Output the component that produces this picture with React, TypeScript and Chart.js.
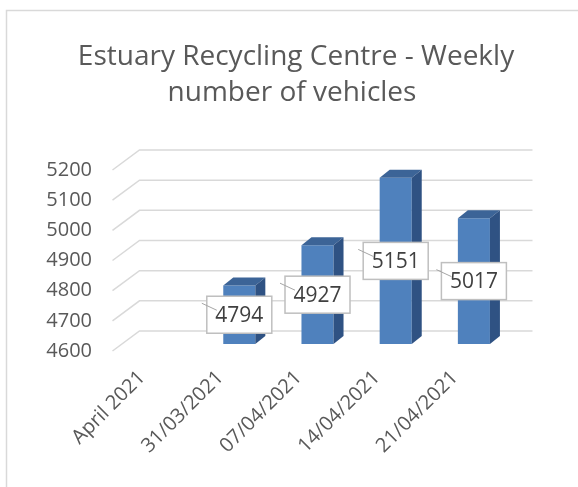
import React, { useEffect, useRef } from "react";
import { Chart, registerables } from "chart.js";

Chart.register(...registerables);

const categories = ["April 2021", "31/03/2021", "07/04/2021", "14/04/2021", "21/04/2021"];
const vehicles: (number | null)[] = [null, 4794, 4927, 5151, 5017];
const titleLines = ["Estuary Recycling Centre - Weekly", "number of vehicles"];
const yMin = 4600;
const yMax = 5200;
const yStep = 100;

const FONT = "'Open Sans', sans-serif";
const TEXT = "#595959";
const GRID = "#d9d9d9";
const FRONT = "#4f81bd";
const TOP = "#3c6497";
const SIDE = "#2f5283";
const DX = 10;
const DY = 8;

const framePlugin = {
  id: "frame",
  beforeDraw(chart: any) {
    const { ctx, width, height } = chart;
    ctx.save();
    ctx.fillStyle = "#ffffff";
    ctx.fillRect(0, 0, width, height);
    ctx.strokeStyle = GRID;
    ctx.lineWidth = 1.5;
    ctx.beginPath();
    ctx.moveTo(6.5, height);
    ctx.lineTo(6.5, 10.5);
    ctx.lineTo(width, 10.5);
    ctx.stroke();
    ctx.fillStyle = TEXT;
    ctx.font = `28px ${FONT}`;
    ctx.textAlign = "center";
    ctx.textBaseline = "middle";
    ctx.fillText(titleLines[0], 296, 57);
    ctx.fillText(titleLines[1], 292, 93);
    ctx.restore();
  },
};

const wallPlugin = {
  id: "wall",
  beforeDatasetsDraw(chart: any) {
    const { ctx, chartArea } = chart;
    const y = chart.scales.y;
    const fx = chartArea.left - 9.5;
    const bx = chartArea.left + 17.5;
    const ex = chartArea.right + 19.5;
    ctx.save();
    ctx.strokeStyle = GRID;
    ctx.lineWidth = 1.5;
    y.ticks.forEach((t: any) => {
      const py = y.getPixelForValue(t.value);
      ctx.beginPath();
      ctx.moveTo(fx, py + 7);
      ctx.lineTo(bx, py - 13);
      ctx.lineTo(ex, py - 13);
      ctx.stroke();
    });
    ctx.restore();
  },
};

const bar3dPlugin = {
  id: "bar3d",
  afterDatasetsDraw(chart: any) {
    const { ctx } = chart;
    const meta = chart.getDatasetMeta(0);
    ctx.save();
    meta.data.forEach((bar: any, i: number) => {
      const v = vehicles[i];
      if (v == null) return;
      const { x, y, base, width } = bar.getProps(["x", "y", "base", "width"], true);
      const l = x - width / 2;
      const r = x + width / 2;
      ctx.fillStyle = TOP;
      ctx.beginPath();
      ctx.moveTo(l, y);
      ctx.lineTo(l + DX, y - DY);
      ctx.lineTo(r + DX, y - DY);
      ctx.lineTo(r, y);
      ctx.closePath();
      ctx.fill();
      ctx.fillStyle = SIDE;
      ctx.beginPath();
      ctx.moveTo(r, y);
      ctx.lineTo(r + DX, y - DY);
      ctx.lineTo(r + DX, base - DY);
      ctx.lineTo(r, base);
      ctx.closePath();
      ctx.fill();
    });
    meta.data.forEach((bar: any, i: number) => {
      const v = vehicles[i];
      if (v == null) return;
      const { x, y, base } = bar.getProps(["x", "y", "base"], true);
      const cy = (y + base) / 2;
      const w = 65;
      const h = 37;
      const left = x - w / 2;
      const top = cy - h / 2;
      ctx.fillStyle = "#ffffff";
      ctx.fillRect(left, top, w, h);
      ctx.strokeStyle = "#bfbfbf";
      ctx.lineWidth = 1.5;
      ctx.strokeRect(left, top, w, h);
      ctx.strokeStyle = "#a6a6a6";
      ctx.lineWidth = 1;
      ctx.beginPath();
      ctx.moveTo(left - 5, top + 7);
      ctx.lineTo(left + 10, top + 14);
      ctx.stroke();
      ctx.fillStyle = "#404040";
      ctx.font = `21px ${FONT}`;
      ctx.textAlign = "center";
      ctx.textBaseline = "middle";
      ctx.fillText(String(v), x, cy + 1);
    });
    ctx.restore();
  },
};

export default function App() {
  const ref = useRef<HTMLCanvasElement | null>(null);
  useEffect(() => {
    if (!ref.current) return;
    const chart = new Chart(ref.current, {
      type: "bar",
      data: {
        labels: categories,
        datasets: [
          {
            data: vehicles as any,
            base: yMin,
            backgroundColor: FRONT,
            barPercentage: 0.41,
            categoryPercentage: 1,
          } as any,
        ],
      },
      options: {
        responsive: false,
        animation: false,
        events: [],
        layout: { padding: { left: 0, top: 163, right: 65, bottom: 0 } },
        plugins: {
          legend: { display: false },
          tooltip: { enabled: false },
          title: { display: false },
        },
        scales: {
          x: {
            grid: { display: false, drawTicks: false },
            border: { display: false },
            ticks: {
              autoSkip: false,
              minRotation: 45,
              maxRotation: 45,
              padding: 22,
              labelOffset: -19,
              color: TEXT,
              font: { family: FONT, size: 20 },
            },
            afterFit: (s: any) => {
              s.height = 143;
            },
          },
          y: {
            min: yMin,
            max: yMax,
            grid: { display: false, drawTicks: false },
            border: { display: false },
            ticks: {
              stepSize: yStep,
              padding: 30,
              labelOffset: 7,
              color: TEXT,
              font: { family: FONT, size: 20 },
              callback: (v: any) => String(v),
            },
            afterFit: (s: any) => {
              s.width = 122;
            },
          },
        },
      },
      plugins: [framePlugin, wallPlugin, bar3dPlugin],
    });
    return () => chart.destroy();
  }, []);
  return (
    <div style={{ position: "absolute", left: 0, top: 0, width: 578, height: 487 }}>
      <canvas ref={ref} width={578} height={487} style={{ display: "block" }} />
    </div>
  );
}
